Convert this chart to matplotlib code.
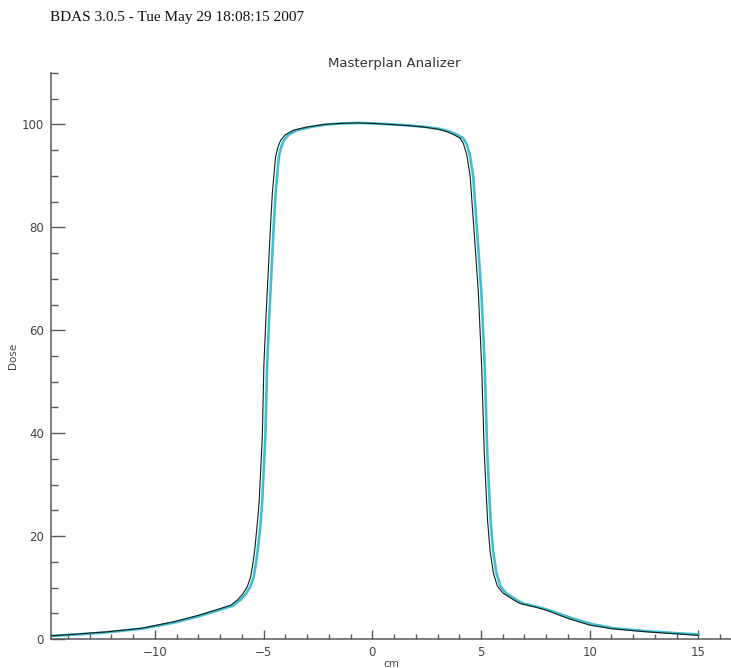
import numpy as np
import matplotlib
matplotlib.use("Agg")
import matplotlib.pyplot as plt
from matplotlib.ticker import MultipleLocator, FixedLocator

# measured profile (black)
meas_x = [-14.8, -13.5, -12.2, -10.6, -9.1, -8.0, -7.0, -6.5, -6.2, -5.95, -5.75,
          -5.6, -5.5, -5.41, -5.3, -5.21, -5.06, -4.99, -4.9, -4.8, -4.7, -4.6,
          -4.52, -4.45, -4.35, -4.22, -4.0, -3.62, -3.0, -2.23, -1.5, -0.7, 0.0,
          0.83, 1.6, 2.35, 3.0, 3.43, 3.8, 4.04, 4.19, 4.35, 4.5, 4.6, 4.72, 4.88,
          5.03, 5.15, 5.3, 5.42, 5.57, 5.75, 6.02, 6.5, 6.79, 7.5, 8.0, 9.0,
          10.0, 11.0, 12.6, 14.0, 15.0]
meas_dose = [0.6, 1.0, 1.4, 2.1, 3.4, 4.6, 5.9, 6.6, 7.6, 8.8, 10.2,
             12.0, 14.5, 17.3, 22.0, 26.4, 39.3, 53.0, 62.0, 70.4, 79.0, 86.6,
             90.5, 93.7, 95.5, 96.9, 98.0, 98.9, 99.5, 100.0, 100.2, 100.3, 100.2,
             100.0, 99.8, 99.5, 99.1, 98.6, 97.9, 97.3, 96.3, 94.0, 90.0, 84.0, 76.9, 67.2,
             53.0, 36.1, 23.1, 17.0, 12.8, 10.3, 8.9, 7.6, 6.9, 6.2, 5.6, 4.0,
             2.7, 2.0, 1.4, 1.0, 0.7]

# calculated profile (cyan)
calc_x = [-14.8, -13.5, -12.2, -10.6, -9.1, -8.0, -7.0, -6.4, -6.06, -5.81, -5.61,
          -5.46, -5.36, -5.27, -5.15, -5.07, -4.92, -4.84, -4.75, -4.65, -4.55, -4.45,
          -4.37, -4.3, -4.2, -4.07, -3.85, -3.47, -2.85, -2.1, -1.4, -0.6, 0.1,
          0.95, 1.7, 2.5, 3.15, 3.58, 3.95, 4.18, 4.33, 4.49, 4.64, 4.74, 4.86, 5.02,
          5.17, 5.29, 5.44, 5.56, 5.71, 5.89, 6.16, 6.64, 6.93, 7.64, 8.14, 9.14,
          10.1, 11.1, 12.7, 14.1, 15.0]
calc_dose = [0.6, 0.9, 1.3, 2.0, 3.2, 4.4, 5.7, 6.5, 7.6, 8.8, 10.2,
             12.0, 14.5, 17.3, 22.0, 26.4, 39.3, 53.0, 62.0, 70.4, 79.0, 86.6,
             90.5, 93.7, 95.5, 96.9, 98.0, 98.9, 99.5, 100.0, 100.2, 100.3, 100.2,
             100.0, 99.8, 99.5, 99.1, 98.6, 97.9, 97.3, 96.3, 94.0, 90.0, 84.0, 76.9, 67.2,
             53.0, 36.1, 23.1, 17.0, 12.8, 10.3, 8.9, 7.6, 6.9, 6.2, 5.6, 4.1,
             2.9, 2.1, 1.5, 1.1, 0.9]

x_labels = [-10, -5, 0, 5, 10, 15]
y_labels = [0, 20, 40, 60, 80, 100]

fig = plt.figure(figsize=(7.31, 6.68), dpi=100)
ax = fig.add_axes([0.0698, 0.0434, 0.9302, 0.8473])

ax.plot(calc_x, calc_dose, color="#3fbfd0", lw=1.9, zorder=2)
ax.plot(meas_x, meas_dose, color="#1a1a1a", lw=0.8, zorder=3)

ax.set_xlim(-14.78, 16.5)
ax.set_ylim(0, 110)

for s in ["top", "right"]:
    ax.spines[s].set_visible(False)
for s in ["left", "bottom"]:
    ax.spines[s].set_color("#5a5a5a")
    ax.spines[s].set_linewidth(1.1)

ax.xaxis.set_major_locator(FixedLocator(x_labels))
ax.xaxis.set_minor_locator(MultipleLocator(1))
ax.yaxis.set_major_locator(FixedLocator(y_labels))
ax.yaxis.set_minor_locator(MultipleLocator(5))

ax.tick_params(axis="x", which="major", direction="in", length=6.5, width=1.0,
               color="#5a5a5a", labelsize=8.5, labelcolor="#444444", pad=5)
ax.tick_params(axis="x", which="minor", direction="in", length=3.5, width=1.0,
               color="#5a5a5a")
ax.tick_params(axis="y", which="major", direction="in", length=10, width=1.0,
               color="#5a5a5a", labelsize=8.5, labelcolor="#444444", pad=5)
ax.tick_params(axis="y", which="minor", direction="in", length=5, width=1.0,
               color="#5a5a5a")

ax.set_xlabel("cm", fontsize=7.5, color="#444444", labelpad=0)
ax.set_ylabel("Dose", fontsize=7.5, color="#444444")
ax.yaxis.set_label_coords(-0.048, 0.5)

fig.text(394 / 731, 1 - 63 / 668, "Masterplan Analizer", ha="center", va="center",
         fontsize=9.5, color="#333333", family="DejaVu Sans")
fig.text(50 / 731, 1 - 18 / 668, "BDAS 3.0.5 - Tue May 29 18:08:15 2007",
         ha="left", va="center", fontsize=11, color="#111111",
         family="Liberation Serif")

fig.savefig("out.png", dpi=100)
